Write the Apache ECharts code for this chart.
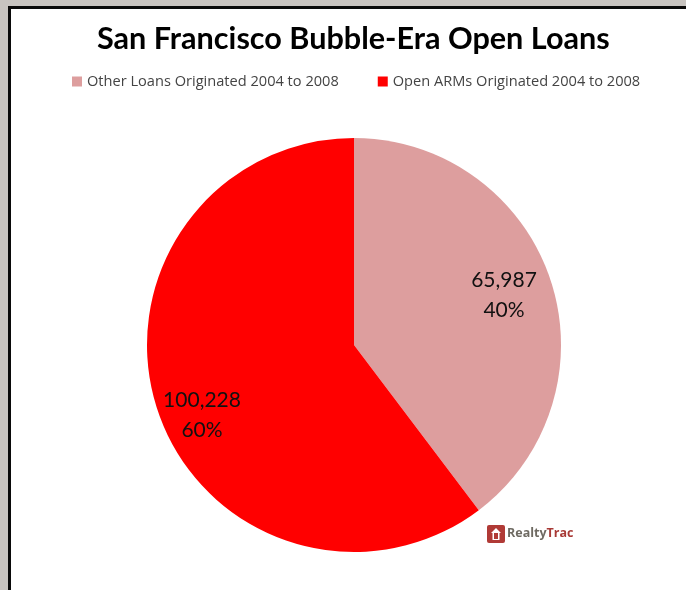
<!DOCTYPE html>
<html>
<head>
<meta charset="utf-8">
<style>
html,body{margin:0;padding:0;background:#c8c4c0;}
#frame{position:absolute;left:8px;top:6px;width:678px;height:584px;box-sizing:border-box;background:#fff;border-left:3px solid #0a0a0a;border-top:3px solid #0a0a0a;}
#chart{position:absolute;left:0;top:0;width:686px;height:590px;}
</style>
<script src="https://cdn.jsdelivr.net/npm/echarts@6/dist/echarts.min.js"></script>
</head>
<body>
<div id="frame"></div>
<div id="chart"></div>
<script>
const chartTitle = 'San Francisco Bubble-Era Open Loans';
const categories = ['Other Loans Originated 2004 to 2008', 'Open ARMs Originated 2004 to 2008'];
const values = [65987, 100228];
const percentLabels = ['40%', '60%'];
const colors = ['#dd9e9e', '#ff0000'];

const chart = echarts.init(document.getElementById('chart'), null, {renderer: 'canvas'});
const fmt = n => n.toLocaleString('en-US');
const labelOffsets = [{dx: 49, dy: -16}, {dx: -51, dy: 36}];

chart.setOption({
  animation: false,
  backgroundColor: 'transparent',
  title: {
    text: chartTitle,
    left: 92,
    top: 19,
    textStyle: {fontFamily: 'Lato', fontWeight: 'bold', fontSize: 30.6, color: '#000'}
  },
  legend: {
    left: 67,
    top: 69,
    itemWidth: 10,
    itemHeight: 10,
    itemGap: 39,
    icon: 'rect',
    textStyle: {fontFamily: 'Open Sans', fontSize: 14.6, color: '#444', padding: [0, 0, 0, 0]},
    data: categories
  },
  series: [{
    type: 'pie',
    center: [354, 345],
    radius: [0, 207],
    startAngle: 90,
    clockwise: true,
    silent: true,
    label: {
      show: true,
      position: 'inside',
      color: '#111',
      fontFamily: 'Lato',
      fontSize: 21,
      lineHeight: 30,
      formatter: p => fmt(p.value) + '\n' + percentLabels[p.dataIndex]
    },
    labelLine: {show: false},
    labelLayout: p => labelOffsets[p.dataIndex],
    data: categories.map((name, i) => ({name, value: values[i], itemStyle: {color: colors[i]}}))
  }],
  graphic: [
    // RealtyTrac mark: red tile, white house outline, red doorway
    {type: 'rect', left: 487, top: 525, shape: {width: 18, height: 18, r: 2}, style: {fill: '#b03a36'}},
    {type: 'polygon', left: 491, top: 528, shape: {points: [[5, 0], [10, 5], [8.5, 5], [8.5, 12], [1.5, 12], [1.5, 5], [0, 5]]}, style: {fill: '#fff'}},
    {type: 'rect', left: 494, top: 533, shape: {width: 4, height: 6}, style: {fill: '#b03a36'}},
    {type: 'text', left: 507, top: 527, style: {
      rich: {
        a: {fill: '#6e6a62', fontFamily: 'Open Sans', fontWeight: 'bold', fontSize: 12.5},
        b: {fill: '#a83a36', fontFamily: 'Open Sans', fontWeight: 'bold', fontSize: 12.5}
      },
      text: '{a|Realty}{b|Trac}'
    }}
  ]
});
</script>
</body>
</html>
